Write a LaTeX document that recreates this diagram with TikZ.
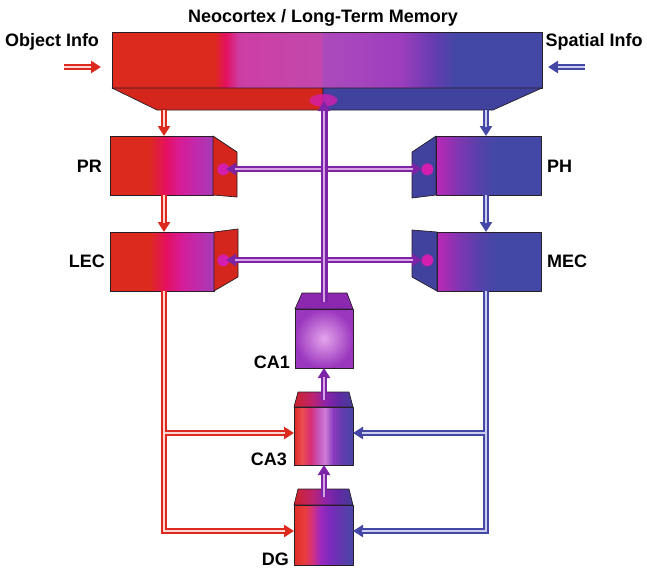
\documentclass[tikz,border=0pt]{standalone}
\usepackage{fontspec}
\setmainfont{Liberation Sans}
\usetikzlibrary{arrows.meta,fadings}

\definecolor{cRed}{RGB}{221,42,30}
\definecolor{cRedD}{RGB}{212,38,28}
\definecolor{cCrim}{RGB}{228,16,95}
\definecolor{cMag}{RGB}{215,28,150}
\definecolor{cSideM}{RGB}{195,40,170}
\definecolor{cPurpR}{RGB}{165,60,182}
\definecolor{cPinkA}{RGB}{205,62,165}
\definecolor{cPinkB}{RGB}{195,72,172}
\definecolor{cPurpA}{RGB}{172,74,188}
\definecolor{cPurpB}{RGB}{158,62,190}
\definecolor{cBV}{RGB}{100,60,175}
\definecolor{cBlue}{RGB}{67,72,166}
\definecolor{cBlueD}{RGB}{64,66,158}
\definecolor{cRP0}{RGB}{185,40,180}
\definecolor{cRP1}{RGB}{165,45,182}
\definecolor{cRP2}{RGB}{125,55,176}
\definecolor{cRP3}{RGB}{85,65,170}
\definecolor{c3a}{RGB}{225,40,40}
\definecolor{c3b}{RGB}{236,80,80}
\definecolor{c3c}{RGB}{215,45,115}
\definecolor{c3d}{RGB}{200,85,185}
\definecolor{c3e}{RGB}{205,125,215}
\definecolor{c3f}{RGB}{140,60,190}
\definecolor{c3g}{RGB}{100,60,175}
\definecolor{c3h}{RGB}{72,70,165}
\definecolor{dga}{RGB}{225,45,40}
\definecolor{dgb}{RGB}{232,62,62}
\definecolor{dgc}{RGB}{215,50,120}
\definecolor{dgd}{RGB}{160,40,190}
\definecolor{dge}{RGB}{122,42,190}
\definecolor{dgf}{RGB}{100,55,175}
\definecolor{t1}{RGB}{205,35,40}
\definecolor{t2}{RGB}{190,35,110}
\definecolor{t3}{RGB}{140,35,170}
\definecolor{t4}{RGB}{100,40,165}
\definecolor{t5}{RGB}{68,62,150}
\definecolor{cCA1top}{RGB}{140,40,175}
\definecolor{cCA1in}{RGB}{228,165,236}
\definecolor{cCA1out}{RGB}{155,55,190}
\definecolor{cViol}{RGB}{125,35,165}
\definecolor{cViolL}{RGB}{215,165,230}
\definecolor{cRedL}{RGB}{255,215,210}
\definecolor{cBlueL}{RGB}{205,205,240}
\definecolor{cGlow}{RGB}{212,30,175}
\definecolor{cEdge}{RGB}{40,30,40}

\pgfdeclarehorizontalshading{neoshade}{100bp}{color(0bp)=(cRed); color(36.9bp)=(cRed); color(38.2bp)=(cCrim); color(39.8bp)=(cPinkA); color(49.3bp)=(cPinkB); color(49.5bp)=(cPurpA); color(58.5bp)=(cPurpB); color(62.5bp)=(cBV); color(65bp)=(cBlue); color(100bp)=(cBlue)}
\pgfdeclarehorizontalshading{lshade}{100bp}{color(0bp)=(cRed); color(44bp)=(cRed); color(52bp)=(cCrim); color(59bp)=(cMag); color(66bp)=(cSideM); color(75bp)=(cPurpR); color(100bp)=(cPurpR)}
\pgfdeclarehorizontalshading{rshade}{100bp}{color(0bp)=(cRP0); color(25bp)=(cRP0); color(29bp)=(cRP1); color(36bp)=(cRP2); color(46bp)=(cRP3); color(53bp)=(cBlue); color(100bp)=(cBlue)}
\pgfdeclarehorizontalshading{cathree}{100bp}{color(0bp)=(c3a); color(25bp)=(c3a); color(31.8bp)=(c3b); color(38.6bp)=(c3c); color(45.3bp)=(c3d); color(51.3bp)=(c3e); color(58bp)=(c3f); color(65.7bp)=(c3g); color(75bp)=(c3h); color(100bp)=(c3h)}
\pgfdeclarehorizontalshading{dgshade}{100bp}{color(0bp)=(dga); color(25bp)=(dga); color(34bp)=(dgb); color(40bp)=(dgc); color(47bp)=(dgd); color(55.5bp)=(dge); color(64bp)=(dgf); color(75bp)=(c3h); color(100bp)=(c3h)}
\pgfdeclarehorizontalshading{topshade}{100bp}{color(0bp)=(t1); color(25bp)=(t1); color(40bp)=(t2); color(52bp)=(t3); color(62bp)=(t4); color(75bp)=(t5); color(100bp)=(t5)}

\tikzset{
  edge/.style={draw=cEdge, line width=0.7pt, line join=round},
  lbl/.style={inner sep=0pt, font=\fontsize{18}{20}\selectfont\bfseries},
  tipA/.style={-{Triangle[length=10pt,width=12pt]}},
  tipB/.style={{Triangle[length=10pt,width=12pt]}-{Triangle[length=10pt,width=12pt]}},
  redO/.style={draw=cRed, line width=5.5pt},
  redC/.style={draw=cRedL, line width=1.3pt},
  bluO/.style={draw=cBlue, line width=5.5pt},
  bluC/.style={draw=cBlueL, line width=1.3pt},
  vioO/.style={draw=cViol, line width=6pt},
  vioC/.style={draw=cViolL, line width=1.3pt},
  glow/.style={fill=cGlow, path fading=circle with fuzzy edge 15 percent},
}

\begin{document}
\begin{tikzpicture}[x=1pt,y=-1pt]
\useasboundingbox (0,0) rectangle (647,568);

% ---------- Neocortex ----------
\shadedraw[shading=neoshade, edge] (112,32) rectangle (542,88);
\filldraw[fill=cRedD, edge] (112,88) -- (323,88) -- (323,110) -- (157,110) -- cycle;
\filldraw[fill=cBlueD, edge] (323,88) -- (542,88) -- (493,110) -- (323,110) -- cycle;
\fill[glow, opacity=0.8] (323,100) ellipse (15pt and 7pt);

% ---------- PR ----------
\shadedraw[shading=lshade, edge] (110,136) rectangle (213,195);
\filldraw[fill=cRedD, edge] (213,136) -- (237,152) -- (237,197) -- (213,195) -- cycle;
% ---------- LEC ----------
\shadedraw[shading=lshade, edge] (110,232) rectangle (214,291);
\filldraw[fill=cRedD, edge] (214,232) -- (238,229) -- (238,277) -- (214,291) -- cycle;
% ---------- PH ----------
\shadedraw[shading=rshade, edge] (436,136) rectangle (541,195);
\filldraw[fill=cBlueD, edge] (436,136) -- (412,152) -- (412,198) -- (436,195) -- cycle;
% ---------- MEC ----------
\shadedraw[shading=rshade, edge] (437,232) rectangle (541,291);
\filldraw[fill=cBlueD, edge] (437,232) -- (412,230) -- (412,277) -- (437,291) -- cycle;
% ---------- CA1 ----------
\filldraw[fill=cCA1top, edge] (295,309) -- (302,293) -- (347,293) -- (353,309) -- cycle;
\shadedraw[inner color=cCA1in, outer color=cCA1out, edge] (295,309) rectangle (353,368);
% ---------- CA3 ----------
\shadedraw[shading=topshade, edge] (294,407) -- (298,392) -- (349,392) -- (353,407) -- cycle;
\shadedraw[shading=cathree, edge] (294,407) rectangle (353,465);
% ---------- DG ----------
\shadedraw[shading=topshade, edge] (294,505) -- (298,489) -- (349,489) -- (353,505) -- cycle;
\shadedraw[shading=dgshade, edge] (294,505) rectangle (353,565);

% ---------- named connection points ----------
\coordinate (neoL) at (164,110);  \coordinate (prT) at (164,136);
\coordinate (prB) at (164,195);   \coordinate (lecT) at (164,232);
\coordinate (neoR) at (486,110);  \coordinate (phT) at (486,136);
\coordinate (phB) at (486,195);   \coordinate (mecT) at (486,232);
\coordinate (lecB) at (164,291);  \coordinate (jR1) at (164,433);
\coordinate (ca3L) at (294,433);  \coordinate (dgL) at (294,531);
\coordinate (mecB) at (486,291);  \coordinate (jB1) at (486,433);
\coordinate (ca3R) at (353,433);  \coordinate (dgR) at (353,531);
\coordinate (prS) at (223,169);   \coordinate (phS) at (427,169);
\coordinate (lecS) at (223,260);  \coordinate (mecS) at (427,260);
\coordinate (ca1T) at (324,302);  \coordinate (neoC) at (324,101);
\coordinate (ca3T) at (324,400);  \coordinate (ca1B) at (324,368);
\coordinate (dgT) at (324,497);   \coordinate (ca3B) at (324,465);
\coordinate (objA) at (64,67);    \coordinate (objB) at (101,67);
\coordinate (spaA) at (585,67);   \coordinate (spaB) at (548,67);

% glows on side faces
\fill[glow] (prS) circle (6.5pt);
\fill[glow] (phS) circle (6.5pt);
\fill[glow] (lecS) circle (6.5pt);
\fill[glow] (mecS) circle (6.5pt);

% horizontal purple double arrows
\draw[vioO, tipB, shorten <=3pt, shorten >=5pt] (prS) -- (phS);
\draw[vioC, shorten <=12pt, shorten >=14pt] (prS) -- (phS);
\draw[vioO, tipB, shorten <=3pt, shorten >=5pt] (lecS) -- (mecS);
\draw[vioC, shorten <=12pt, shorten >=14pt] (lecS) -- (mecS);

% red vertical arrows
\draw[redO, tipA] (neoL) -- (prT);
\draw[redC, shorten >=9pt] (neoL) -- (prT);
\draw[redO, tipA] (prB) -- (lecT);
\draw[redC, shorten >=9pt] (prB) -- (lecT);
% blue vertical arrows
\draw[bluO, tipA] (neoR) -- (phT);
\draw[bluC, shorten >=9pt] (neoR) -- (phT);
\draw[bluO, tipA] (phB) -- (mecT);
\draw[bluC, shorten >=9pt] (phB) -- (mecT);

% red connector to CA3 and DG
\draw[redO, tipA] (lecB) |- (dgL);
\draw[redO, tipA] (jR1) -- (ca3L);
\draw[redC, shorten >=9pt] (lecB) |- (dgL);
\draw[redC, shorten >=9pt] (jR1) -- (ca3L);
% blue connector to CA3 and DG
\draw[bluO, tipA] (mecB) |- (dgR);
\draw[bluO, tipA] (jB1) -- (ca3R);
\draw[bluC, shorten >=9pt] (mecB) |- (dgR);
\draw[bluC, shorten >=9pt] (jB1) -- (ca3R);

% purple vertical arrows
\draw[vioO, tipA, line width=7pt] (ca1T) -- (neoC);
\draw[vioC, shorten >=10pt] (ca1T) -- (neoC);
\draw[vioO, tipA, line width=5.5pt] (ca3T) -- (ca1B);
\draw[vioC, shorten >=9pt] (ca3T) -- (ca1B);
\draw[vioO, tipA, line width=5.5pt] (dgT) -- (ca3B);
\draw[vioC, shorten >=9pt] (dgT) -- (ca3B);

% input arrows
\draw[redO, line width=6.5pt, -{Triangle[length=10pt,width=12pt]}] (objA) -- (objB);
\draw[redC, line width=2pt, shorten >=10pt] (objA) -- (objB);
\draw[bluO, line width=6.5pt, -{Triangle[length=10pt,width=12pt]}] (spaA) -- (spaB);
\draw[bluC, line width=2pt, shorten >=10pt] (spaA) -- (spaB);

% ---------- labels ----------
\node[lbl, anchor=base] (title) at (323,22) {Neocortex / Long-Term Memory};
\node[lbl, anchor=base] (obj) at (52,46) {Object Info};
\node[lbl, anchor=base] (spa) at (594,46) {Spatial Info};
\node[lbl, anchor=east] (prl) at (102,166) {PR};
\node[lbl, anchor=east] (lecl) at (105,261) {LEC};
\node[lbl, anchor=west] (phl) at (547,166) {PH};
\node[lbl, anchor=west] (mecl) at (547,261) {MEC};
\node[lbl, anchor=base east] (ca1l) at (290,368) {CA1};
\node[lbl, anchor=base east] (ca3l) at (287,465) {CA3};
\node[lbl, anchor=base east] (dgl) at (289,565) {DG};
\end{tikzpicture}
\end{document}
